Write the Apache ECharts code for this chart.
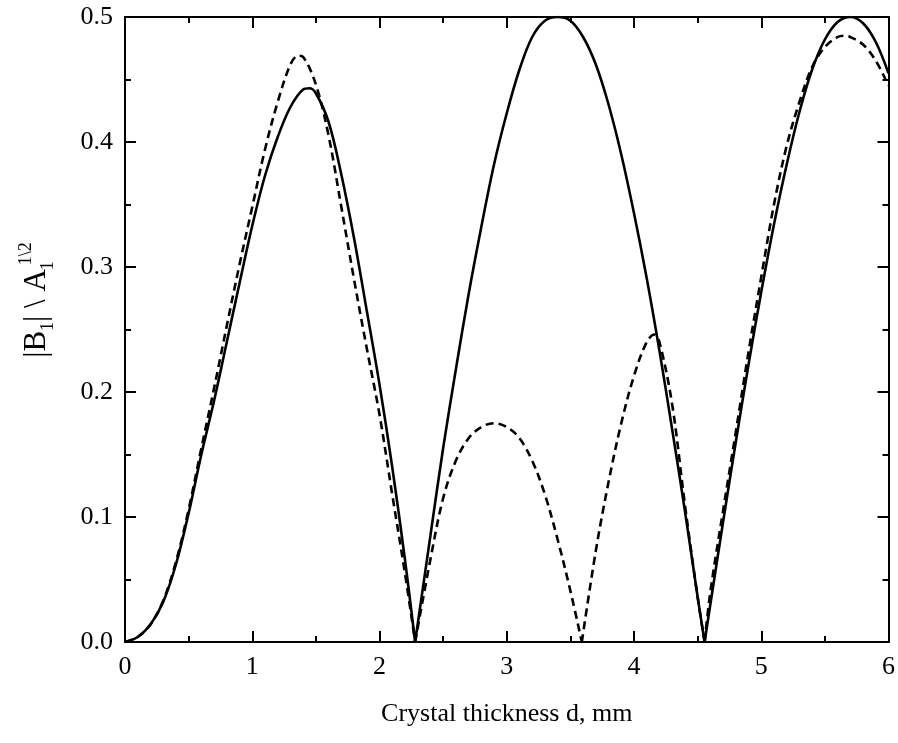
<!DOCTYPE html>
<html>
<head>
<meta charset="utf-8">
<script src="https://cdn.jsdelivr.net/npm/echarts@6/dist/echarts.min.js"></script>
<style>
html,body{margin:0;padding:0;background:#fff;}
#chart{width:898px;height:743px;}
</style>
</head>
<body>
<div id="chart"></div>
<script>
// Crystal thickness d, mm (solid curve)
const solidD = [0,0.1,0.2,0.3,0.4,0.5,0.6,0.7,0.8,0.9,1.0,1.1,1.2,1.3,1.4,1.45,1.5,1.6,1.7,1.8,1.9,2.0,2.1,2.2,2.28,
  2.4,2.5,2.6,2.7,2.8,2.9,3.0,3.1,3.2,3.3,3.4,3.5,3.6,3.7,3.8,3.9,4.0,4.1,4.2,4.3,4.4,4.5,4.555,
  4.6,4.7,4.8,4.9,5.0,5.1,5.2,5.3,5.4,5.5,5.6,5.7,5.8,5.9,6.0];
const solidV = [0,0.004,0.014,0.032,0.062,0.103,0.150,0.193,0.240,0.287,0.333,0.373,0.404,0.428,0.442,0.443,0.439,0.416,0.374,0.323,0.265,0.206,0.140,0.066,0,
  0.085,0.155,0.218,0.278,0.332,0.382,0.423,0.458,0.484,0.497,0.500,0.497,0.484,0.462,0.430,0.390,0.343,0.291,0.233,0.170,0.105,0.036,0,
  0.030,0.096,0.160,0.222,0.280,0.334,0.382,0.424,0.458,0.482,0.496,0.500,0.495,0.480,0.455];
// dashed curve
const dashD = [0,0.1,0.2,0.3,0.4,0.5,0.6,0.7,0.8,0.9,1.0,1.1,1.2,1.3,1.36,1.4,1.5,1.6,1.7,1.8,1.9,2.0,2.1,2.2,2.28,
  2.4,2.5,2.6,2.7,2.8,2.9,3.0,3.1,3.2,3.3,3.4,3.5,3.59,
  3.7,3.8,3.9,4.0,4.1,4.16,4.2,4.3,4.4,4.5,4.555,
  4.6,4.7,4.8,4.9,5.0,5.1,5.2,5.3,5.4,5.5,5.6,5.65,5.7,5.8,5.9,6.0];
const dashV = [0,0.004,0.014,0.033,0.064,0.106,0.155,0.203,0.253,0.302,0.348,0.394,0.432,0.462,0.469,0.468,0.446,0.405,0.348,0.290,0.235,0.182,0.118,0.055,0,
  0.066,0.115,0.145,0.163,0.172,0.175,0.172,0.163,0.145,0.118,0.082,0.041,0,
  0.073,0.128,0.175,0.213,0.240,0.246,0.240,0.190,0.110,0.036,0,
  0.040,0.105,0.168,0.232,0.292,0.350,0.397,0.432,0.460,0.476,0.484,0.485,0.484,0.478,0.465,0.445];

const xTicks = {min: 0, max: 6, interval: 1};
const yTicks = {min: 0, max: 0.5, interval: 0.1};
const xTitle = 'Crystal thickness d, mm';

const FONT = 'Liberation Serif';
const chart = echarts.init(document.getElementById('chart'), null, {renderer: 'canvas'});

// build [x,y] pairs; break the line at interior zeros so each lobe is smoothed on its own
function pairs(xs, ys) {
  const out = [];
  xs.forEach((x, i) => {
    out.push([x, ys[i]]);
    if (ys[i] === 0 && i > 0 && i < xs.length - 1) {
      out.push([x, '-']);
      out.push([x, ys[i]]);
    }
  });
  return out;
}

const lineAxis = {onZero: false, lineStyle: {color: '#000', width: 2}};
const tick = {show: true, inside: true, length: 11, lineStyle: {color: '#000', width: 2}};
const minor = {show: true, splitNumber: 2, length: 6, lineStyle: {color: '#000', width: 2}};

const option = {
  animation: false,
  backgroundColor: '#fff',
  grid: {left: 125, top: 17, width: 768, height: 625, containLabel: false},
  xAxis: [
    {type: 'value', position: 'bottom', min: xTicks.min, max: xTicks.max, interval: xTicks.interval,
     axisLine: lineAxis, axisTick: tick, minorTick: minor, splitLine: {show: false},
     axisLabel: {color: '#000', fontFamily: FONT, fontSize: 26, margin: 12},
     name: xTitle, nameLocation: 'middle', nameGap: 59,
     nameTextStyle: {color: '#000', fontFamily: FONT, fontSize: 26}},
    {type: 'value', position: 'top', min: xTicks.min, max: xTicks.max, interval: xTicks.interval,
     axisLine: lineAxis, axisTick: tick, minorTick: minor, splitLine: {show: false},
     axisLabel: {show: false}}
  ],
  yAxis: [
    {type: 'value', position: 'left', min: yTicks.min, max: yTicks.max, interval: yTicks.interval,
     axisLine: lineAxis, axisTick: tick, minorTick: minor, splitLine: {show: false},
     axisLabel: {color: '#000', fontFamily: FONT, fontSize: 26, margin: 12,
       formatter: v => v.toFixed(1)}},
    {type: 'value', position: 'right', min: yTicks.min, max: yTicks.max, interval: yTicks.interval,
     axisLine: lineAxis, axisTick: tick, minorTick: minor, splitLine: {show: false},
     axisLabel: {show: false}}
  ],
  graphic: [{
    type: 'text', x: 37, y: 300, rotation: Math.PI / 2,
    style: {
      text: '{a||B}{s|1}{a|| \\ A}{z|1}{p|1\\2}',
      align: 'center', verticalAlign: 'middle',
      fill: '#000', fontFamily: FONT,
      rich: {
        a: {fontSize: 31, fontFamily: FONT, fill: '#000', lineHeight: 40, verticalAlign: 'middle'},
        s: {fontSize: 18, fontFamily: FONT, fill: '#000', lineHeight: 18, verticalAlign: 'bottom'},
        z: {fontSize: 18, fontFamily: FONT, fill: '#000', lineHeight: 18, verticalAlign: 'bottom',
            width: 1, align: 'left', padding: [0, 0, 0, 3]},
        p: {fontSize: 18, fontFamily: FONT, fill: '#000', lineHeight: 18, verticalAlign: 'top'}
      }
    }
  }],
  series: [
    {type: 'line', name: 'solid', data: pairs(solidD, solidV), showSymbol: false, symbol: 'none',
     smooth: 0.35, connectNulls: false,
     lineStyle: {color: '#000', width: 2.6, type: 'solid'}, clip: true, z: 3},
    {type: 'line', name: 'dashed', data: pairs(dashD, dashV), showSymbol: false, symbol: 'none',
     smooth: 0.35, connectNulls: false,
     lineStyle: {color: '#000', width: 2.6, type: [8, 5]}, clip: true, z: 2}
  ]
};
chart.setOption(option);
</script>
</body>
</html>
